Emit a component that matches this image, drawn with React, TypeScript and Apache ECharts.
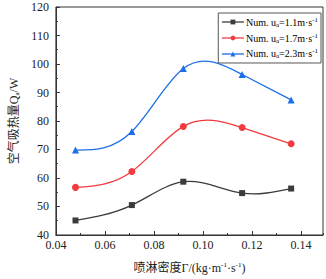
import React, { useEffect, useRef } from "react";
import * as echarts from "echarts";

const xValues = [0.048, 0.071, 0.092, 0.116, 0.136];
const series11 = [45.1, 50.5, 58.7, 54.7, 56.3];
const series17 = [56.7, 62.3, 78.1, 77.7, 72.0];
const series23 = [69.8, 76.3, 98.4, 96.3, 87.4];
const seriesNames = ["u11", "u17", "u23"];
const legendTexts = [
  "Num. u{sub|a}=1.1m·s{sup|-1}",
  "Num. u{sub|a}=1.7m·s{sup|-1}",
  "Num. u{sub|a}=2.3m·s{sup|-1}",
];
const colors = ["#3b3b3b", "#f23b3e", "#1b6fe8"];
const symbols = ["rect", "circle", "triangle"];

const SERIF = "Liberation Serif, Noto Sans CJK SC, serif";

// natural cubic spline slopes (used only to draw the connecting curve)
function splineSlopes(xs: number[], ys: number[]): number[] {
  const n = xs.length;
  const h: number[] = [];
  for (let i = 0; i < n - 1; i++) h.push(xs[i + 1] - xs[i]);
  const M = new Array(n).fill(0);
  if (n > 2) {
    const a: number[] = [], b: number[] = [], c: number[] = [], d: number[] = [];
    for (let i = 1; i < n - 1; i++) {
      a.push(h[i - 1]);
      b.push(2 * (h[i - 1] + h[i]));
      c.push(h[i]);
      d.push(6 * ((ys[i + 1] - ys[i]) / h[i] - (ys[i] - ys[i - 1]) / h[i - 1]));
    }
    const m = b.length;
    for (let i = 1; i < m; i++) {
      const w = a[i] / b[i - 1];
      b[i] -= w * c[i - 1];
      d[i] -= w * d[i - 1];
    }
    const sol = new Array(m).fill(0);
    sol[m - 1] = d[m - 1] / b[m - 1];
    for (let i = m - 2; i >= 0; i--) sol[i] = (d[i] - c[i] * sol[i + 1]) / b[i];
    for (let i = 0; i < m; i++) M[i + 1] = sol[i];
  }
  const s: number[] = [];
  for (let i = 0; i < n - 1; i++) {
    s.push((ys[i + 1] - ys[i]) / h[i] - (h[i] * (2 * M[i] + M[i + 1])) / 6);
  }
  s.push((ys[n - 1] - ys[n - 2]) / h[n - 2] + (h[n - 2] * (M[n - 2] + 2 * M[n - 1])) / 6);
  return s;
}

export default function App() {
  const ref = useRef<HTMLDivElement>(null);
  useEffect(() => {
    if (!ref.current) return;
    const chart = echarts.init(ref.current, undefined, { renderer: "svg" });
    const datasets = [series11, series17, series23];
    const rich = {
      sub: { fontSize: 7, fontFamily: SERIF, verticalAlign: "bottom", padding: [5, 0, 0, 0], color: "#000" },
      sup: { fontSize: 7, fontFamily: SERIF, verticalAlign: "top", padding: [0, 0, 5, 0], color: "#000" },
    };
    const curveSeries = datasets.map((ys, si) => {
      const slopes = splineSlopes(xValues, ys);
      return {
        name: seriesNames[si] + "_curve",
        type: "custom",
        z: 2,
        data: ys.map((v, j) => [xValues[j], v]),
        encode: { x: 0, y: 1 },
        renderItem: (params: any, api: any) => {
          const i = params.dataIndex;
          if (i >= xValues.length - 1) return { type: "group", children: [] };
          const x0 = xValues[i], x1 = xValues[i + 1];
          const y0 = ys[i], y1 = ys[i + 1];
          const hh = x1 - x0;
          const p0 = api.coord([x0, y0]);
          const c1 = api.coord([x0 + hh / 3, y0 + (slopes[i] * hh) / 3]);
          const c2 = api.coord([x1 - hh / 3, y1 - (slopes[i + 1] * hh) / 3]);
          const p1 = api.coord([x1, y1]);
          return {
            type: "bezierCurve",
            shape: {
              x1: p0[0], y1: p0[1],
              cpx1: c1[0], cpy1: c1[1],
              cpx2: c2[0], cpy2: c2[1],
              x2: p1[0], y2: p1[1],
            },
            style: { stroke: colors[si], fill: "none", lineWidth: 1.3 },
          };
        },
      };
    });
    const markerSeries = datasets.map((d, i) => ({
      name: seriesNames[i],
      type: "line",
      z: 3,
      data: d.map((v, j) => [xValues[j], v]),
      symbol: symbols[i],
      symbolSize: i === 0 ? 6 : 7,
      showSymbol: true,
      lineStyle: { color: colors[i], width: 1.3, opacity: 0 },
      itemStyle: { color: colors[i] },
    }));
    chart.setOption({
      animation: false,
      backgroundColor: "#fff",
      grid: {
        left: 41,
        right: 3,
        top: 7,
        bottom: 38,
        show: true,
        borderColor: "#333",
        borderWidth: 1,
        containLabel: false,
      },
      legend: {
        data: seriesNames.map((n, i) => ({
          name: n,
          lineStyle: { color: colors[i], width: 1.3, opacity: 1 },
          itemStyle: { color: colors[i] },
        })),
        right: 5,
        top: 13,
        orient: "vertical",
        itemWidth: 22,
        itemHeight: 6,
        itemGap: 4,
        padding: [3, 3, 3, 3],
        borderColor: "#555",
        borderWidth: 1,
        formatter: (name: string) => legendTexts[seriesNames.indexOf(name)],
        textStyle: { fontFamily: SERIF, fontSize: 10, color: "#000", padding: [0, 0, 0, -3], rich },
      },
      xAxis: [
        {
          type: "value",
          min: 0.04,
          max: 0.149,
          interval: 0.02,
          axisLine: { onZero: false, lineStyle: { color: "#333", width: 1 } },
          axisTick: { inside: true, length: 4, lineStyle: { color: "#333" } },
          splitLine: { show: false },
          axisLabel: {
            showMaxLabel: false,
            margin: 4,
            fontFamily: SERIF,
            fontSize: 12,
            color: "#222",
            formatter: (v: number) => v.toFixed(2),
          },
          name: "喷淋密度Γ/(kg·m{sup|-1}·s{sup|-1})",
          nameLocation: "middle",
          nameGap: 27,
          nameTextStyle: { fontFamily: SERIF, fontSize: 12, color: "#222", rich },
        },
        {
          type: "value",
          position: "bottom",
          min: 0.04,
          max: 0.149,
          interval: 0.01,
          axisLine: { show: false },
          axisTick: { inside: true, length: 2, lineStyle: { color: "#333" } },
          axisLabel: { show: false },
          splitLine: { show: false },
        },
      ],
      yAxis: {
        type: "value",
        min: 40,
        max: 120,
        interval: 10,
        axisLine: { show: true, lineStyle: { color: "#333", width: 1 } },
        axisTick: { inside: true, length: 4, lineStyle: { color: "#333" } },
        minorTick: { show: true, splitNumber: 2, length: 2, lineStyle: { color: "#333" } },
        splitLine: { show: false },
        axisLabel: { margin: 7, fontFamily: SERIF, fontSize: 12, color: "#222" },
        name: "空气吸热量Q{sub|a}/W",
        nameLocation: "middle",
        nameRotate: 90,
        nameGap: 29,
        nameTextStyle: { fontFamily: SERIF, fontSize: 12, color: "#222", rich },
      },
      series: [...curveSeries, ...markerSeries],
    });
    return () => chart.dispose();
  }, []);
  return (
    <div
      ref={ref}
      style={{ position: "fixed", left: 0, top: 0, width: 326, height: 279 }}
    />
  );
}
